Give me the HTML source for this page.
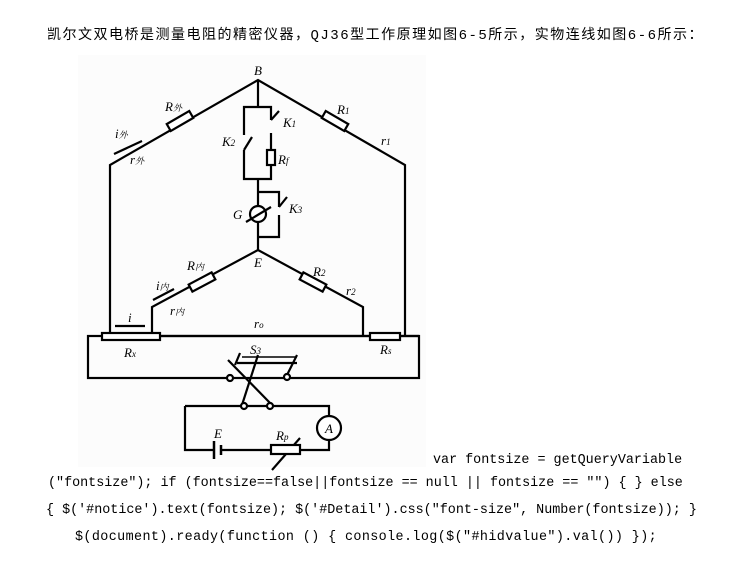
<!DOCTYPE html>
<html><head><meta charset="utf-8"><style>
body{margin:0;width:730px;height:586px;background:#fff;position:relative;overflow:hidden}
.t{position:absolute;white-space:nowrap;color:#000}
.c{font-family:"Liberation Mono",monospace;font-size:13.4px}
svg text{font-family:"Liberation Serif","Noto Serif CJK SC",serif;font-style:italic;font-size:13px}
</style></head><body>
<div class="t" style="left:47px;top:24px;font-family:'Liberation Mono','Noto Sans CJK SC',monospace;font-size:14px;letter-spacing:1.5px">凯尔文双电桥是测量电阻的精密仪器，QJ36型工作原理如图6-5所示，实物连线如图6-6所示：</div>
<svg style="position:absolute;left:0;top:0" width="730" height="586">
<rect x="78" y="55" width="348" height="412" fill="#fcfcfc"/>
<g stroke="#000" stroke-width="2.2" fill="none">
<polyline points="110,336 110,165 258,80 405,165 405,336"/>
<line x1="258" y1="80" x2="258" y2="107"/>
<polyline points="244,135 244,107 271,107 271,120"/>
<line x1="271" y1="120" x2="279" y2="111"/>
<polyline points="271,133 271,150"/>
<rect x="267" y="150" width="8" height="15" fill="#fff"/>
<polyline points="271,165 271,179 244,179 244,150"/>
<line x1="244" y1="150" x2="252" y2="137"/>
<line x1="258" y1="179" x2="258" y2="250"/>
<polyline points="258,192 279,192 279,207"/>
<line x1="279" y1="207" x2="287" y2="197"/>
<polyline points="279,215 279,237 258,237"/>
<circle cx="258" cy="214" r="8" fill="#fff"/>
<line x1="246" y1="222" x2="271" y2="207"/>
<polyline points="152,336 152,307 258,250 363,307 363,336"/>
<line x1="102" y1="336" x2="419" y2="336"/>
<rect x="88" y="336" width="331" height="42"/>
<line x1="115" y1="326" x2="145" y2="326"/>
<line x1="114" y1="154" x2="142" y2="141"/>
<line x1="153" y1="300" x2="174" y2="289"/>
<polyline points="185,406 185,450 214,450"/>
<polyline points="222,450 271,450"/>
<polyline points="300,450 329,450 329,440"/>
<polyline points="329,416 329,406 185,406"/>
<circle cx="329" cy="428" r="12" fill="#fff"/>
<line x1="242" y1="405" x2="258" y2="355"/>
<line x1="272" y1="405" x2="228" y2="360"/>
<line x1="235" y1="365" x2="240" y2="353"/>
<line x1="287" y1="375" x2="297" y2="355"/>
<line x1="237" y1="363" x2="297" y2="363"/>
<line x1="242" y1="357" x2="297" y2="357" stroke-width="1.5"/>
<line x1="272" y1="470" x2="300" y2="438"/>
</g>
<g stroke="#000" stroke-width="2.2" fill="#fff">
<rect x="167" y="117" width="26" height="8" transform="rotate(-30 180 121)"/>
<rect x="322" y="117" width="26" height="8" transform="rotate(30 335 121)"/>
<rect x="189" y="278" width="26" height="8" transform="rotate(-28 202 282)"/>
<rect x="300" y="278" width="26" height="8" transform="rotate(28 313 282)"/>
<rect x="102" y="333" width="58" height="7"/>
<rect x="370" y="333" width="30" height="7"/>
<rect x="271" y="445" width="29" height="9"/>
<circle cx="230" cy="378" r="3"/><circle cx="287" cy="377" r="3"/>
<circle cx="244" cy="406" r="3"/><circle cx="270" cy="406" r="3"/>
</g>
<g stroke="#000" stroke-width="2.5"><line x1="214" y1="441" x2="214" y2="459"/><line x1="221" y1="445" x2="221" y2="455"/></g>
<text x="254" y="75">B</text>
<text x="165" y="111">R<tspan font-size="9">外</tspan></text>
<text x="337" y="114">R<tspan font-size="9">1</tspan></text>
<text x="381" y="145">r<tspan font-size="9">1</tspan></text>
<text x="115" y="138">i<tspan font-size="9">外</tspan></text>
<text x="130" y="164">r<tspan font-size="9">外</tspan></text>
<text x="222" y="146">K<tspan font-size="9">2</tspan></text>
<text x="283" y="127">K<tspan font-size="9">1</tspan></text>
<text x="278" y="164">R<tspan font-size="9">f</tspan></text>
<text x="233" y="219">G</text>
<text x="289" y="213">K<tspan font-size="9">3</tspan></text>
<text x="254" y="267">E</text>
<text x="187" y="270">R<tspan font-size="9">内</tspan></text>
<text x="313" y="276">R<tspan font-size="9">2</tspan></text>
<text x="346" y="295">r<tspan font-size="9">2</tspan></text>
<text x="156" y="290">i<tspan font-size="9">内</tspan></text>
<text x="170" y="315">r<tspan font-size="9">内</tspan></text>
<text x="128" y="322">i</text>
<text x="254" y="328" font-style="normal">r<tspan font-size="9">o</tspan></text>
<text x="124" y="357">R<tspan font-size="9">x</tspan></text>
<text x="380" y="354">R<tspan font-size="9">s</tspan></text>
<text x="250" y="354">S<tspan font-size="9">3</tspan></text>
<text x="214" y="438">E</text>
<text x="276" y="440">R<tspan font-size="9">p</tspan></text>
<text x="325" y="433" font-size="11">A</text>
</svg>
<div class="t c" style="left:433px;top:453px">var fontsize = getQueryVariable</div>
<div class="t c" style="left:48px;top:476px">("fontsize"); if (fontsize==false||fontsize == null || fontsize == "") { } else</div>
<div class="t c" style="left:46px;top:503px">{ $('#notice').text(fontsize); $('#Detail').css("font-size", Number(fontsize)); }</div>
<div class="t c" style="left:75px;top:530px;letter-spacing:0.4px">$(document).ready(function () { console.log($("#hidvalue").val()) });</div>
</body></html>
